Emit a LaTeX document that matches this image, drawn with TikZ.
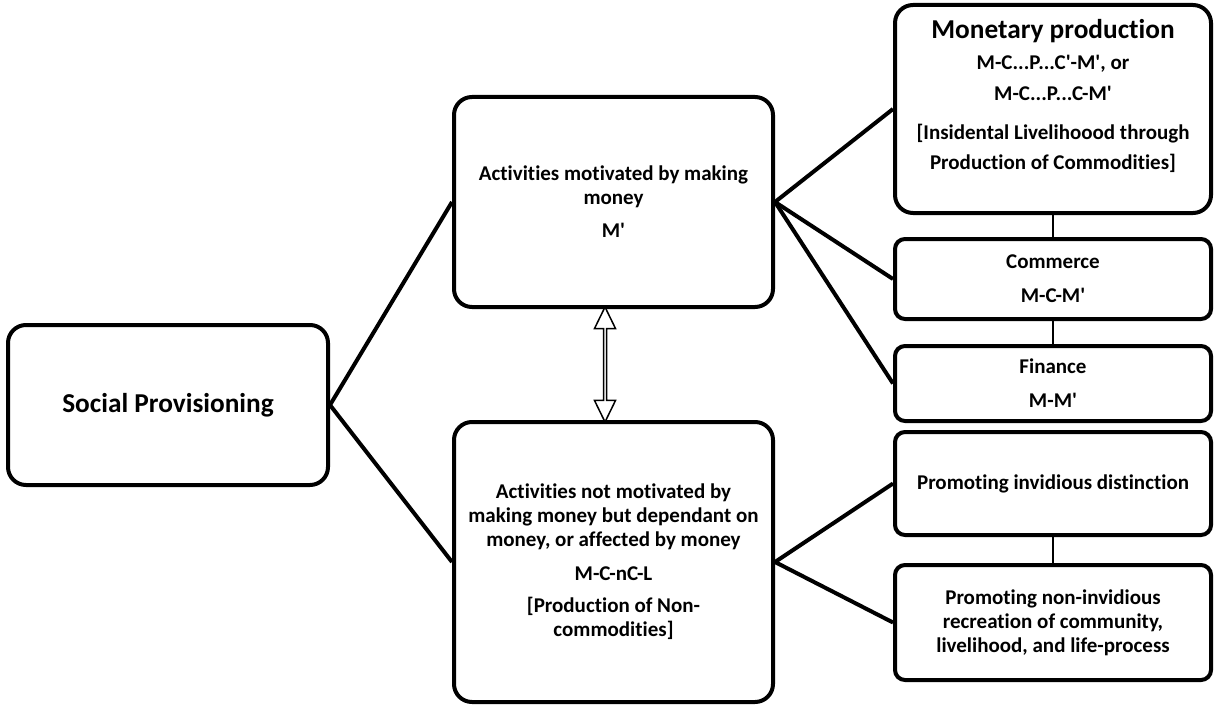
\documentclass[tikz,border=0pt]{standalone}
\usepackage{fontspec}
\setmainfont{Carlito}[Ligatures=NoCommon]
\usetikzlibrary{positioning,shapes.arrows,calc}
\newcommand{\tick}{\textquotesingle}

\begin{document}
\begin{tikzpicture}
    [
      x=1pt, y=-1pt,
      line width=4pt,
      font=\bfseries\fontsize{21}{24}\selectfont,
      my box/.style={draw, rectangle, rounded corners=18pt, align=center, inner sep=0pt},
      my small box/.style={my box, rounded corners=10pt, minimum width=316pt},
      my title/.style={font=\bfseries\fontsize{27.3}{30}\selectfont},
      my thin/.style={line width=1.5pt},
      my arrow/.style={draw, double arrow, shape border rotate=90, line width=1.5pt, minimum width=21pt, double arrow head extend=4.5pt, double arrow head indent=0pt, double arrow tip angle=52, inner sep=0pt, fill=white}
    ]
    \useasboundingbox (0,0) rectangle (1214,706);
    \node (1) [my box, my title, minimum width=320pt, minimum height=160pt] at (168,405) {Social Provisioning};
    \node (2) [my box, minimum width=319pt, minimum height=210pt] at (613.5,202) {Activities motivated by making\\money\\[9pt]M\tick};
    \node (3) [my box, minimum width=319pt, minimum height=280pt] at (613.5,562) {Activities not motivated by\\making money but dependant on\\money, or affected by money\\[10pt]M-C-nC-L\\[8pt][Production of Non-\\commodities]};
    \node (4) [my small box, rounded corners=18pt, minimum height=208pt] at (1053,109) {{\fontsize{27.3}{30}\selectfont Monetary production}\\[7pt]M-C...P...C\tick-M\tick, or\\[7pt]M-C...P...C-M\tick\\[15pt][Insidental Livelihoood through\\[6pt]Production of Commodities]\\[5pt]~};
    \node (5) [my small box, minimum height=80pt, below=22pt of 4] {Commerce\\[10pt]M-C-M\tick};
    \node (6) [my small box, minimum height=75pt, below=23pt of 5] {Finance\\[10pt]M-M\tick};
    \node (7) [my small box, minimum height=103pt] at (1053,483.5) {Promoting invidious distinction};
    \node (8) [my small box, minimum height=115pt, below=26pt of 7] {Promoting non-invidious\\recreation of community,\\livelihood, and life-process};
    \node (9) [my arrow, minimum height=115pt] at ($(2.south)!.5!(3.north)+(-8.5,0)$) {};
    \path [draw] (1.east) -- (2.west);
    \path [draw] (1.east) -- (3.west);
    \path [draw] (2.east) -- (4.west);
    \path [draw] (2.east) -- (5.west);
    \path [draw] (2.east) -- (6.west);
    \path [draw] (3.east) -- (7.west);
    \path [draw] (3.east) -- (8.west);
    \path [draw, my thin] (4.south) -- (5.north);
    \path [draw, my thin] (5.south) -- (6.north);
    \path [draw, my thin] (7.south) -- (8.north);
  \end{tikzpicture}
\end{document}
